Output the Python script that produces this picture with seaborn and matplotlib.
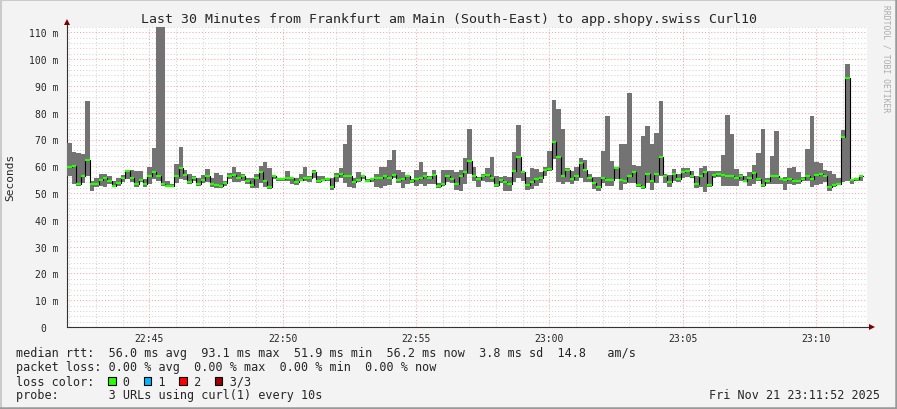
import matplotlib
matplotlib.use('Agg')
import matplotlib.pyplot as plt
import matplotlib.ticker as mticker
from matplotlib.patches import Rectangle
from matplotlib.lines import Line2D
import numpy as np
import pandas as pd
import seaborn as sns

# Chart content
title = 'Last 30 Minutes from Frankfurt am Main (South-East) to app.shopy.swiss Curl10'
first_sample = '22:41:56'
view_start = '22:41:55'
view_minutes = 30
step_sec = 10

# rtt per 10s step in ms: max ping, median ping, min ping
smoke_hi = [68.7, 65.3, 65.1, 64.6, 84.3, 54.4, 55.6, 57.1, 57.3, 56.5,
            54.6, 55.6, 56.9, 58.8, 58.6, 58.1, 58.3, 55.2, 59.6, 66.8,
            112, 112, 54.6, 53.4, 60.8, 67.3, 58.6, 57.3, 56.5, 55.6,
            56.9, 59.0, 55.6, 57.5, 56.7, 54.6, 57.6, 59.9, 57.8, 57.1,
            55.6, 55.6, 57.1, 60.2, 61.6, 59.3, 56.2, 55.6, 55.6, 58.1,
            55.6, 55.6, 57.1, 59.6, 56.5, 58.8, 56.2, 56.5, 55.8, 55.6,
            57.5, 59.3, 68.5, 75.5, 55.6, 57.8, 56.5, 55.2, 55.6, 57.1,
            59.6, 59.6, 62.3, 66.0, 58.7, 57.8, 56.5, 55.2, 58.6, 61.6,
            57.8, 56.5, 58.6, 53.6, 58.6, 58.6, 58.8, 57.8, 58.6, 63.0,
            73.9, 59.6,
            55.9, 57.3, 59.3, 63.3, 56.5, 55.9, 56.5, 55.9, 65.2, 75.4,
            58.3, 55.9, 59.3, 59.0, 57.8, 59.6, 65.8, 84.7, 81.3, 73.9,
            59.3, 58.3, 59.8, 63.0, 62.2, 57.3, 55.9, 55.9, 65.8, 78.9,
            61.8, 59.6, 68.3, 68.3, 87.3, 60.6, 60.2, 71.4, 75.1, 68.3,
            72.6, 84.4, 57.3, 56.9, 59.0, 57.1, 59.3, 59.3, 58.3, 56.5,
            59.3, 60.2, 58.3, 58.3, 58.3, 64.1, 79.2, 72.0, 59.0, 57.3,
            56.5,
            57.8, 60.4, 64.8, 73.9, 55.8, 63.9, 73.3, 55.8, 56.0, 59.3,
            59.8, 57.8, 56.0, 66.4, 78.7, 61.6, 61.1, 58.6, 58.3, 57.3,
            55.8, 73.5, 98.1, 55.2, 55.8, 56.5]
median_rtt = [59.8, 60.2, 53.4, 56.5, 62.4, 53.4, 53.4, 54.9, 55.6, 54.6,
              52.8, 53.9, 55.6, 58.1, 55.6, 53.4, 54.9, 53.4, 56.2, 58.0,
              56.5, 53.4, 52.5, 52.5, 56.5, 59.3, 56.9, 54.0, 55.6, 53.5,
              54.9, 56.5, 53.4, 52.9, 52.5, 53.9, 56.5, 56.9, 55.6, 56.5,
              54.6, 53.1, 55.6, 58.0, 54.4, 52.1, 56.2, 55.1, 55.1, 55.6,
              55.5, 54.3, 54.9, 55.8, 55.6, 58.0, 54.4, 54.9, 55.1, 52.1,
              56.5, 57.0, 56.2, 56.2, 54.3, 54.9, 56.5, 54.6, 55.1, 55.6,
              55.6, 56.5, 55.6, 56.9, 54.9, 55.3, 56.4, 54.6, 55.1, 55.6,
              56.5, 55.6, 56.9, 52.5, 53.4, 56.2, 55.1, 53.4, 56.2, 57.8,
              62.1, 56.2,
              55.3, 56.4, 56.9, 55.6, 53.1, 54.9, 54.3, 53.4, 58.3, 63.6,
              58.0, 53.1, 54.3, 55.3, 55.6, 58.6, 59.1, 68.9, 63.3, 56.2,
              58.6, 55.2, 56.5, 61.4, 58.6, 55.8, 53.6, 52.2, 55.6, 54.9,
              54.9, 59.3, 54.9, 54.6, 56.2, 57.8, 53.0, 52.2, 57.1, 54.6,
              57.3, 63.3, 56.5, 54.0, 57.1, 55.1, 57.8, 58.3, 56.5, 53.4,
              56.5, 57.8, 53.1, 56.9, 57.1, 56.9, 56.5, 56.4, 55.5, 56.5,
              54.6,
              55.6, 57.6, 55.1, 53.1, 54.6, 56.5, 56.2, 55.3, 54.9, 55.3,
              54.6, 54.4, 55.1, 56.2, 55.1, 56.9, 57.1, 56.5, 52.2, 53.1,
              53.4, 71.0, 93.1, 54.9, 55.2, 56.5]
smoke_lo = [56.5, 53.4, 52.8, 53.6, 56.5, 50.6, 52.1, 52.8, 52.2, 53.4,
            52.1, 52.8, 54.0, 55.2, 54.0, 52.2, 54.0, 52.1, 53.4, 55.2,
            54.6, 52.8, 52.1, 52.1, 53.6, 55.2, 54.9, 53.4, 54.6, 52.8,
            53.6, 54.0, 52.1, 51.8, 51.8, 52.8, 55.2, 54.0, 54.0, 54.6,
            53.4, 51.8, 51.8, 53.6, 52.1, 51.5, 55.2, 54.6, 54.6, 54.6,
            53.4, 53.1, 54.4, 54.4, 54.0, 55.8, 53.6, 54.4, 54.4, 51.3,
            54.0, 55.6, 53.6, 52.1, 51.8, 54.0, 55.2, 54.0, 54.3, 52.2,
            51.8, 52.8, 53.1, 55.6, 53.6, 51.8, 53.4, 53.6, 52.8, 53.4,
            52.8, 53.4, 53.4, 51.8, 52.8, 54.0, 53.6, 51.1, 50.6, 53.4,
            57.1, 54.6,
            52.4, 54.6, 54.0, 54.0, 52.4, 53.6, 50.6, 50.6, 54.0, 55.6,
            54.4, 51.0, 51.5, 52.8, 53.6, 56.5, 58.3, 62.6, 54.0, 53.4,
            54.0, 53.4, 54.6, 55.6, 54.0, 54.0, 51.5, 50.9, 53.6, 52.8,
            52.7, 55.2, 51.3, 53.4, 53.6, 53.6, 52.1, 51.5, 53.6, 51.0,
            53.6, 56.5, 53.6, 52.1, 54.6, 54.0, 55.6, 56.0, 55.6, 52.0,
            52.1, 50.5, 52.1, 55.6, 56.0, 52.7, 52.7, 52.7, 52.7, 54.6,
            54.0,
            52.7, 53.4, 54.6, 52.1, 53.4, 53.4, 53.4, 53.4, 51.3, 53.4,
            53.1, 53.4, 54.6, 54.6, 52.4, 53.1, 53.4, 54.0, 50.9, 52.1,
            53.4, 54.0, 54.6, 53.4, 54.6, 54.6]

legend_lines = [
    'median rtt:  56.0 ms avg  93.1 ms max  51.9 ms min  56.2 ms now  3.8 ms sd  14.8   am/s',
    'packet loss: 0.00 % avg  0.00 % max  0.00 % min  0.00 % now',
    'loss color:    0    1    2    3/3',
    'probe:       3 URLs using curl(1) every 10s',
]
loss_colors = ['#26ff00', '#00b8ff', '#ff0000', '#a00000']
stamp = 'Fri Nov 21 23:11:52 2025'


def to_sec(hms):
    h, m, s = [int(p) for p in hms.split(':')]
    return h * 3600 + m * 60 + s


# Build the data frame
df = pd.DataFrame({'hi': smoke_hi, 'median': median_rtt, 'lo': smoke_lo})
df['t'] = to_sec(first_sample) + step_sec * np.arange(len(df))
# one extra row so the last step gets its width
edges = pd.concat([df, df.tail(1).assign(t=df['t'].iloc[-1] + step_sec)], ignore_index=True)

sns.set_style('white')
plt.rcParams['font.family'] = ['DejaVu Sans Mono']

W, H = 897, 410
fig = plt.figure(figsize=(W / 100, H / 100), dpi=100)
fig.patch.set_facecolor('#F3F3F3')
ax = fig.add_axes([67 / W, 82 / H, 800 / W, 300 / H])
ax.set_facecolor('white')

# smoke, median steps (black risers) and green median dashes
ax.fill_between(edges['t'], edges['lo'], edges['hi'], step='post',
                color='#737373', lw=0, zorder=3)
sns.lineplot(data=edges, x='t', y='median', drawstyle='steps-post',
             color='black', lw=0.8, ax=ax, zorder=4)
ax.hlines(df['median'], df['t'], df['t'] + step_sec, colors=loss_colors[0],
          lw=1.6, zorder=5)

x0 = to_sec(view_start)
ax.set_xlim(x0, x0 + view_minutes * 60)
ax.set_ylim(0, 112)

ax.xaxis.set_major_locator(mticker.MultipleLocator(300))
ax.xaxis.set_minor_locator(mticker.MultipleLocator(60))
ax.xaxis.set_major_formatter(mticker.FuncFormatter(
    lambda s, p: f'{int(s // 3600):02d}:{int(s % 3600 // 60):02d}'))
ax.yaxis.set_major_locator(mticker.MultipleLocator(10))
ax.yaxis.set_minor_locator(mticker.MultipleLocator(2))
ax.yaxis.set_major_formatter(mticker.FuncFormatter(
    lambda v, p: '0  ' if v == 0 else f'{int(v)} m'))

ax.grid(which='minor', color='#D4D4D4', lw=0.75, ls=(0, (1, 2)), zorder=1)
ax.grid(which='major', color='#FFA0A0', lw=0.75, ls=(0, (1, 2)), zorder=2)
ax.set_axisbelow(True)

ax.tick_params(which='major', length=4, direction='inout', width=0.8,
               color='#333333', labelsize=7, pad=4)
ax.tick_params(which='minor', length=2, direction='inout', width=0.8,
               color='#333333')
ax.tick_params(axis='x', pad=2)
ax.set_xlabel('')
ax.set_ylabel('')

for side in ['top', 'right']:
    ax.spines[side].set_visible(False)
for side in ['left', 'bottom']:
    ax.spines[side].set_color('#333333')
    ax.spines[side].set_linewidth(0.8)

# axis arrows
ax.plot([0, 0], [1, 1.015], transform=ax.transAxes, color='#333333', lw=0.8, clip_on=False)
ax.plot([1, 1.005], [0, 0], transform=ax.transAxes, color='#333333', lw=0.8, clip_on=False)
ax.plot([0], [1.018], marker='^', ms=4.5, color='#7F0000', mew=0,
        transform=ax.transAxes, clip_on=False)
ax.plot([1.006], [0], marker='>', ms=4.5, color='#7F0000', mew=0,
        transform=ax.transAxes, clip_on=False)

# texts
fig.text(0.5, 1 - 19 / H, title, ha='center', va='center', fontsize=9.5)
fig.text(10 / W, 1 - 177 / H, 'Seconds', rotation=90, ha='center', va='center', fontsize=8)
fig.text(886 / W, 1 - 59 / H, 'RRDTOOL / TOBI OETIKER', rotation=270, ha='center',
         va='center', fontsize=5.8, color='#ABABAB')

line_y = [354, 368, 382, 396]
for txt, y in zip(legend_lines, line_y):
    fig.text(16 / W, 1 - y / H, txt, ha='left', va='center', fontsize=8.5)
fig.text(880 / W, 1 - line_y[3] / H, stamp, ha='right', va='center', fontsize=8.5)

# loss colour boxes
char_w = 7.1
for i, c in enumerate(loss_colors):
    bx = 16 + (13 + 5 * i) * char_w
    fig.patches.append(Rectangle((bx / W, 1 - (line_y[2] + 4) / H), 7.5 / W, 8 / H,
                                 transform=fig.transFigure, facecolor=c,
                                 edgecolor='black', lw=0.8))

# frame around the image
fig.add_artist(Line2D([0, 1], [1 - 1 / H, 1 - 1 / H], color='#CBCBCB', lw=1.5))
fig.add_artist(Line2D([1 / W, 1 / W], [0, 1], color='#CBCBCB', lw=1.5))
fig.add_artist(Line2D([0, 1], [1.2 / H, 1.2 / H], color='#999999', lw=1.8))
fig.add_artist(Line2D([1 - 1.2 / W, 1 - 1.2 / W], [0, 1], color='#999999', lw=1.8))

fig.savefig('out.png', dpi=100, facecolor=fig.get_facecolor())
